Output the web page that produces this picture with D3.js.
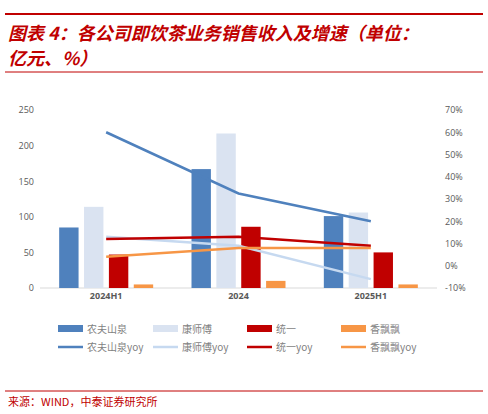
<!DOCTYPE html>
<html><head><meta charset="utf-8">
<script src="https://cdn.jsdelivr.net/npm/d3@7"></script>
<style>body{margin:0;background:#fff}svg{display:block}</style>
</head><body><svg id="c" width="488" height="414"></svg>
<script>
const categories=["2024H1","2024","2025H1"];
const seriesNames=["农夫山泉","康师傅","统一","香飘飘"];
const nongfu=[85,167,101];
const kangshifu=[114,217,106];
const tongyi=[47,86,50];
const xiangpiao=[5,10,5];
const nongfuYoy=[60,32.5,20];
const kangshifuYoy=[13,9,-6];
const tongyiYoy=[12,13,9];
const xiangpiaoYoy=[4,8,8];
const leftTicks=[0,50,100,150,200,250];
const rightTicks=[-10,0,10,20,30,40,50,60,70];
const colors=["#4f81bd","#dae3f1","#c00000","#f79646"];
const lineColors=["#4f81bd","#c6d9f0","#c00000","#f79646"];
const bars=[nongfu,kangshifu,tongyi,xiangpiao];
const yoys=[nongfuYoy,kangshifuYoy,tongyiYoy,xiangpiaoYoy];

const svg=d3.select("#c");
const red="#c00000";
const font="'Noto Sans CJK SC',sans-serif";
svg.append("line").attr("x1",5).attr("x2",483).attr("y1",14).attr("y2",14).attr("stroke",red).attr("stroke-width",2);
svg.append("line").attr("x1",5).attr("x2",483).attr("y1",72).attr("y2",72).attr("stroke",red).attr("stroke-width",1);
svg.append("text").attr("x",8).attr("y",40).attr("fill",red).attr("font-family",font).attr("font-size",18).attr("font-weight","bold").attr("font-style","italic").text("图表 4：各公司即饮茶业务销售收入及增速（单位：");
svg.append("text").attr("x",8).attr("y",65).attr("fill",red).attr("font-family",font).attr("font-size",18).attr("font-weight","bold").attr("font-style","italic").text("亿元、%）");

const L=40,R=437,T=110,B=288;
const x=d3.scaleBand().domain(categories).range([L,R]);
const xs=d3.scaleBand().domain(d3.range(4)).range([0,94]).paddingInner(0.22);
const yL=d3.scaleLinear().domain([0,250]).range([B,T]);
const yR=d3.scaleLinear().domain([-10,70]).range([B,T]);
const g=svg.append("g");
g.append("line").attr("x1",L).attr("x2",R).attr("y1",B).attr("y2",B).attr("stroke","#d9d9d9");
const axL=g.append("g").attr("transform",`translate(${L},0)`).call(d3.axisLeft(yL).tickValues(leftTicks).tickSize(0).tickPadding(6));
const axR=g.append("g").attr("transform",`translate(${R},0)`).call(d3.axisRight(yR).tickValues(rightTicks).tickSize(0).tickPadding(8).tickFormat(d=>d+"%"));
const axB=g.append("g").attr("transform",`translate(0,${B})`).call(d3.axisBottom(x).tickSize(0).tickPadding(5));
[axL,axR,axB].forEach(a=>{a.select(".domain").remove();a.selectAll("text").attr("fill","#595959").attr("font-family","'Open Sans',sans-serif").attr("font-size",9);});
axB.selectAll("text").attr("font-weight","bold");
axL.select(".domain").remove();
bars.forEach((arr,i)=>{
 g.selectAll(null).data(arr).enter().append("rect")
  .attr("x",(d,j)=>x(categories[j])+x.bandwidth()/2-47+xs(i))
  .attr("width",xs.bandwidth()).attr("y",d=>yL(d)).attr("height",d=>B-yL(d)).attr("fill",colors[i]);
});
const order=[1,2,3,0];
order.forEach(i=>{
 g.append("path").datum(yoys[i]).attr("fill","none").attr("stroke",lineColors[i]).attr("stroke-width",2.5)
  .attr("d",d3.line().x((d,j)=>x(categories[j])+x.bandwidth()/2).y(d=>yR(d)));
});
const lx=[58,153,247,341];
seriesNames.forEach((n,i)=>{
 svg.append("rect").attr("x",lx[i]).attr("y",325).attr("width",25).attr("height",7).attr("fill",colors[i]);
 svg.append("text").attr("x",lx[i]+29).attr("y",333).attr("font-family",font).attr("font-size",10).attr("fill","#7f7f7f").text(n);
 svg.append("line").attr("x1",lx[i]).attr("x2",lx[i]+25).attr("y1",347).attr("y2",347).attr("stroke",lineColors[i]).attr("stroke-width",2.5);
 svg.append("text").attr("x",lx[i]+29).attr("y",351).attr("font-family",font).attr("font-size",10).attr("fill","#7f7f7f").text(n+"yoy");
});
svg.append("line").attr("x1",5).attr("x2",483).attr("y1",391).attr("y2",391).attr("stroke",red).attr("stroke-width",1);
svg.append("text").attr("x",8).attr("y",406).attr("font-family",font).attr("font-size",11).attr("fill",red).text("来源：WIND，中泰证券研究所");
</script></body></html>
